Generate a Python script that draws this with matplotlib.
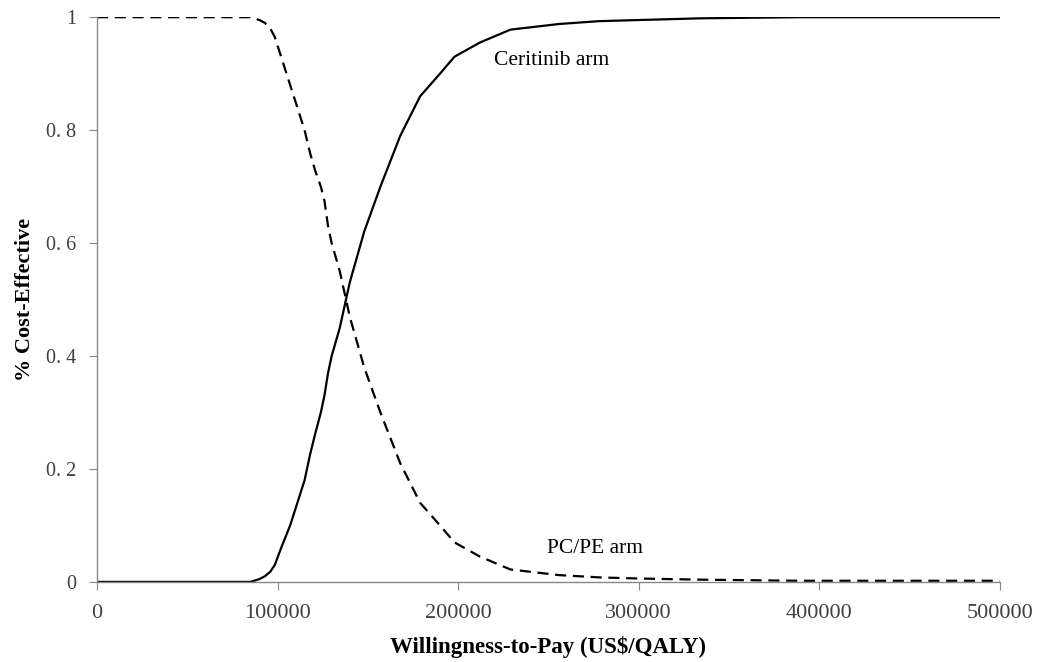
import matplotlib
matplotlib.use("Agg")
import matplotlib.pyplot as plt

# --- data ---
wtp = [0, 20000, 50000, 80000, 85000, 90000, 93000, 96000, 98500, 102000, 107000,
       111000, 115000, 118000, 120700, 124000, 126000, 128000, 130000, 134500,
       140000, 148000, 157000, 168000, 179000, 190000, 198000, 212000, 229000,
       256000, 278000, 300000, 334000, 360000, 389000, 420000, 460000, 500000]

ceritinib = [0, 0, 0, 0, 0.0, 0.005, 0.01, 0.018, 0.03, 0.06, 0.10,
             0.14, 0.18, 0.225, 0.26, 0.30, 0.33, 0.37, 0.40, 0.45,
             0.53, 0.62, 0.70, 0.79, 0.86, 0.90, 0.93, 0.955, 0.978,
             0.988, 0.993, 0.995, 0.998, 0.999, 1.0, 1.0, 1.0, 1.0]

pcpe = [1, 1, 1, 1, 1.0, 0.995, 0.99, 0.98, 0.965, 0.93, 0.88,
        0.84, 0.80, 0.76, 0.73, 0.70, 0.675, 0.63, 0.60, 0.55,
        0.47, 0.38, 0.30, 0.21, 0.14, 0.10, 0.07, 0.045, 0.022,
        0.012, 0.008, 0.006, 0.004, 0.003, 0.002, 0.002, 0.002, 0.002]

xticks = [0, 100000, 200000, 300000, 400000, 500000]
xtick_labels = ["0", "100000", "200000", "300000", "400000", "500000"]
yticks = [0, 0.2, 0.4, 0.6, 0.8, 1.0]
ytick_labels = ["0", "0. 2", "0. 4", "0. 6", "0. 8", "1"]

# --- figure ---
fig = plt.figure(figsize=(10.37, 6.62), dpi=100)
ax = fig.add_axes([0.0935, 0.121, 0.8705, 0.853])

ax.plot(wtp, ceritinib, color="black", linewidth=1.6, linestyle="-")
ax.plot(wtp, pcpe, color="black", linewidth=1.6, linestyle=(0, (5, 3)))

ax.set_xlim(0, 500000)
ax.set_ylim(0, 1)

ax.set_xticks(xticks)
ax.set_xticklabels(xtick_labels, fontfamily="Liberation Serif", fontsize=16)
ax.set_yticks(yticks)
ax.set_yticklabels(ytick_labels, fontfamily="Liberation Serif", fontsize=14.5)

for side in ["top", "right"]:
    ax.spines[side].set_visible(False)
for side in ["left", "bottom"]:
    ax.spines[side].set_color("#888888")
    ax.spines[side].set_linewidth(1.0)
ax.tick_params(axis="both", direction="out", color="#888888", length=6,
               labelcolor="#404040")
ax.tick_params(axis="x", pad=10)
ax.tick_params(axis="y", pad=9)

ax.set_xlabel("Willingness-to-Pay (US$/QALY)", fontfamily="Liberation Serif",
              fontweight="bold", fontsize=16.5, labelpad=9)
ax.set_ylabel("% Cost-Effective", fontfamily="Liberation Serif",
              fontweight="bold", fontsize=16, labelpad=8)

ax.text(219800, 0.924, "Ceritinib arm", fontfamily="Liberation Serif",
        fontsize=15.5, ha="left", va="center")
ax.text(249200, 0.06, "PC/PE arm", fontfamily="Liberation Serif",
        fontsize=15.5, ha="left", va="center")

fig.savefig("out.png", dpi=100)
